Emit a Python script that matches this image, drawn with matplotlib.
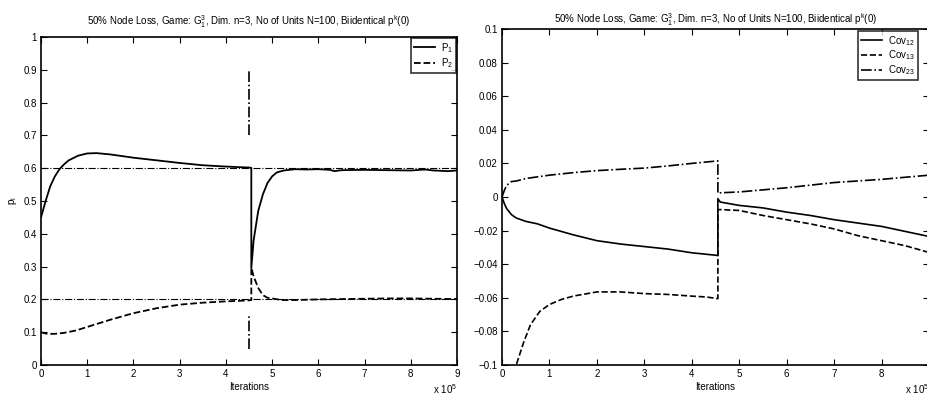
import matplotlib
matplotlib.use("Agg")
import matplotlib.pyplot as plt

plt.rcParams['font.family'] = ['Liberation Sans', 'DejaVu Sans']
plt.rcParams['mathtext.fontset'] = 'custom'
plt.rcParams['mathtext.rm'] = 'Liberation Sans'
plt.rcParams['mathtext.it'] = 'Liberation Sans'

# iterations in units of 1e5
p1_x = [0, 0.1, 0.2, 0.3, 0.4, 0.5, 0.6, 0.8, 1.0, 1.2, 1.5, 2.0, 2.5, 3.0, 3.5, 4.0, 4.5, 4.55,
        4.55, 4.6, 4.7, 4.8, 4.9, 5.0, 5.1, 5.25, 5.5, 5.75, 6.0, 6.25, 6.35, 6.5, 7.0, 7.5, 8.0,
        8.3, 8.5, 8.8, 9.0]
p1_y = [0.45, 0.50, 0.545, 0.575, 0.597, 0.612, 0.624, 0.638, 0.645, 0.646, 0.642, 0.632, 0.624,
        0.616, 0.609, 0.605, 0.602, 0.601,
        0.296, 0.38, 0.47, 0.52, 0.555, 0.575, 0.587, 0.593, 0.597, 0.596, 0.597, 0.595, 0.591,
        0.594, 0.595, 0.594, 0.593, 0.596, 0.593, 0.591, 0.593]

p2_x = [0, 0.1, 0.2, 0.3, 0.5, 0.75, 1.0, 1.5, 2.0, 2.5, 3.0, 3.5, 4.0, 4.5, 4.55,
        4.55, 4.6, 4.7, 4.8, 4.9, 5.0, 5.2, 5.5, 6.0, 6.5, 7.0, 7.5, 8.0, 8.5, 9.0]
p2_y = [0.1, 0.096, 0.095, 0.095, 0.098, 0.105, 0.116, 0.138, 0.158, 0.173, 0.184, 0.19, 0.194,
        0.197, 0.198,
        0.297, 0.27, 0.235, 0.213, 0.205, 0.203, 0.198, 0.198, 0.200, 0.201, 0.202, 0.203, 0.203,
        0.202, 0.201]

# target levels and event markers
target_levels = [0.6, 0.2]
event_x = 4.5
event_spans = [(0.7, 0.9), (0.05, 0.15)]

cov12_x = [0, 0.05, 0.1, 0.2, 0.3, 0.5, 0.75, 1, 1.5, 2, 2.5, 3, 3.5, 4, 4.55,
           4.55, 4.6, 5, 5.5, 6, 6.5, 7, 7.5, 8, 8.5, 9]
cov12_y = [0, -0.004, -0.007, -0.0105, -0.0125, -0.0145, -0.016, -0.0185, -0.0225, -0.026,
           -0.028, -0.0295, -0.031, -0.0332, -0.0348,
           -0.001, -0.003, -0.005, -0.0065, -0.009, -0.011, -0.0135, -0.0155, -0.0175, -0.0205,
           -0.0235]

cov13_x = [0, 0.15, 0.3, 0.45, 0.6, 0.8, 1, 1.25, 1.5, 2, 2.5, 3, 3.5, 4, 4.3, 4.55,
           4.55, 4.6, 5, 5.5, 6, 6.5, 7, 7.5, 8, 8.5, 9]
cov13_y = [-0.135, -0.115, -0.1, -0.087, -0.076, -0.068, -0.064, -0.061, -0.059, -0.0565,
           -0.0565, -0.0575, -0.058, -0.059, -0.0595, -0.0605,
           -0.0075, -0.0075, -0.008, -0.011, -0.0135, -0.016, -0.019, -0.023, -0.026, -0.029,
           -0.033]

cov23_x = [0, 0.05, 0.1, 0.2, 0.3, 0.5, 1, 1.5, 2, 2.5, 3, 3.5, 4, 4.55,
           4.55, 4.6, 5, 6, 7, 8, 9]
cov23_y = [0, 0.004, 0.007, 0.0092, 0.0095, 0.011, 0.013, 0.0145, 0.0157, 0.0165, 0.0172,
           0.0185, 0.020, 0.0215,
           0.0022, 0.0025, 0.003, 0.0055, 0.0086, 0.0105, 0.013]

title = "50% Node Loss, Game: G$_1^3$, Dim. n=3, No of Units N=100, Biidentical p$^k$(0)"

W, H = 928, 397
fig = plt.figure(figsize=(W / 100, H / 100), dpi=100)
ax1 = fig.add_axes([41 / W, (H - 365) / H, 416 / W, 328 / H])
ax2 = fig.add_axes([502 / W, (H - 365) / H, 427 / W, 336 / H])


def style(ax, h):
    ax.tick_params(direction='in', top=True, right=True, labelsize=7, length=4, width=0.8, pad=3)
    for s in ax.spines.values():
        s.set_linewidth(1.2)
    ax.set_xlim(0, 9)
    ax.set_xticks(range(10))
    ax.set_xlabel("Iterations", fontsize=7, labelpad=2)
    # exponent note under the right end, baseline about 29 px below the axis
    ax.text(1.0, -29 / h, "x 10$^5$", transform=ax.transAxes, fontsize=7, ha='right', va='baseline')


# left: strategy probabilities
for lv in target_levels:
    ax1.axhline(lv, color='black', linestyle='-.', linewidth=0.8)
for lo, hi in event_spans:
    ax1.plot([event_x, event_x], [lo, hi], color='black', linestyle='-.', linewidth=1.2)
ax1.plot(p1_x, p1_y, color='black', linewidth=1.3, label='P$_1$')
ax1.plot(p2_x, p2_y, color='black', linewidth=1.3, linestyle='--', label='P$_2$')
ax1.set_ylim(0, 1)
ax1.set_yticks([i / 10 for i in range(11)])
ax1.set_yticklabels(['0', '0.1', '0.2', '0.3', '0.4', '0.5', '0.6', '0.7', '0.8', '0.9', '1'])
ax1.set_ylabel("p$_i$", fontsize=7, labelpad=3)
ax1.set_title(title, fontsize=7, pad=9)
style(ax1, 328)
leg1 = ax1.legend(loc='upper right', fontsize=7, frameon=True, fancybox=False, handlelength=2.2,
                  borderaxespad=0.1, borderpad=0.3, labelspacing=0.2, handletextpad=0.6)
leg1.get_frame().set_edgecolor('black')
leg1.get_frame().set_linewidth(1.2)

# right: covariances
ax2.plot(cov12_x, cov12_y, color='black', linewidth=1.2, label='Cov$_{12}$')
ax2.plot(cov13_x, cov13_y, color='black', linewidth=1.2, linestyle='--', label='Cov$_{13}$')
ax2.plot(cov23_x, cov23_y, color='black', linewidth=1.2, linestyle='-.', label='Cov$_{23}$')
ax2.set_ylim(-0.1, 0.1)
ax2.set_yticks([-0.1, -0.08, -0.06, -0.04, -0.02, 0, 0.02, 0.04, 0.06, 0.08, 0.1])
ax2.set_yticklabels(['\u22120.1', '\u22120.08', '\u22120.06', '\u22120.04', '\u22120.02', '0',
                     '0.02', '0.04', '0.06', '0.08', '0.1'])
ax2.set_title(title, fontsize=7, pad=4)
style(ax2, 336)
leg2 = ax2.legend(loc='upper right', fontsize=7, frameon=True, fancybox=False, handlelength=2.2,
                  borderaxespad=0.2, borderpad=0.3, labelspacing=0.1, handletextpad=0.6,
                  bbox_to_anchor=(0.978, 1.0))
leg2.get_frame().set_edgecolor('black')
leg2.get_frame().set_linewidth(1.2)

fig.savefig("out.png", dpi=100)
